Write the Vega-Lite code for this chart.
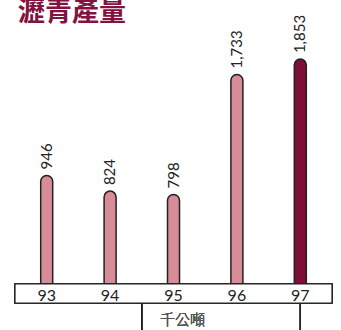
{
  "$schema": "https://vega.github.io/schema/vega-lite/v6.json",
  "width": 317,
  "height": 259,
  "autosize": "none",
  "padding": {"left": 15, "top": 25, "right": 9, "bottom": 46},
  "background": "white",
  "title": {
    "text": "瀝青產量",
    "anchor": "start",
    "frame": "group",
    "font": "Noto Sans CJK TC",
    "fontSize": 27,
    "fontWeight": 700,
    "color": "#82123f",
    "baseline": "top",
    "dx": 3,
    "dy": 12,
    "offset": 0
  },
  "config": {"view": {"stroke": null}},
  "data": {
    "values": [
      {"year": "93", "value": 946},
      {"year": "94", "value": 824},
      {"year": "95", "value": 798},
      {"year": "96", "value": 1733},
      {"year": "97", "value": 1853}
    ]
  },
  "layer": [
    {
      "mark": {"type": "bar", "width": 12, "cornerRadiusTopLeft": 6, "cornerRadiusTopRight": 6, "stroke": "#222222", "strokeWidth": 1.5, "clip": false},
      "encoding": {
        "x": {
          "field": "year", "type": "ordinal",
          "scale": {"paddingInner": 0, "paddingOuter": 0},
          "axis": {"title": null, "domain": false, "ticks": false, "labelAngle": 0, "labelPadding": 3, "labelFontSize": 16, "labelFont": "Lato", "labelColor": "#222222", "zindex": 1}
        },
        "y": {"field": "value", "type": "quantitative", "scale": {"domain": [100, 2119], "zero": false, "nice": false}, "axis": null},
        "y2": {"datum": 100},
        "fill": {
          "condition": {"test": "datum.year == '97'", "value": "#7e0d38"},
          "value": "#d88c98"
        }
      }
    },
    {
      "mark": {"type": "text", "angle": 270, "align": "left", "baseline": "middle", "dx": 6, "fontSize": 15, "font": "Lato", "color": "#222222"},
      "encoding": {
        "x": {"field": "year", "type": "ordinal"},
        "y": {"field": "value", "type": "quantitative"},
        "text": {"field": "value", "type": "quantitative", "format": ",d"}
      }
    },
    {
      "mark": {"type": "rect", "fill": "white", "stroke": "#222222", "strokeWidth": 1.2, "clip": false},
      "encoding": {
        "y": {"datum": 100},
        "y2": {"datum": -48}
      }
    },
    {
      "mark": {"type": "rule", "stroke": "#222222", "strokeWidth": 1.2, "clip": false},
      "encoding": {
        "x": {"datum": "95", "bandPosition": 0},
        "y": {"datum": -52},
        "y2": {"datum": -258}
      }
    },
    {
      "mark": {"type": "rule", "stroke": "#222222", "strokeWidth": 1.2, "clip": false},
      "encoding": {
        "x": {"datum": "97"},
        "y": {"datum": -52},
        "y2": {"datum": -258}
      }
    },
    {
      "mark": {"type": "text", "fontSize": 15, "font": "Noto Sans CJK TC", "fontWeight": 300, "color": "#555555", "dx": 9, "baseline": "middle", "clip": false},
      "encoding": {
        "x": {"datum": "95"},
        "y": {"datum": -184},
        "text": {"value": "千公噸"}
      }
    }
  ]
}
